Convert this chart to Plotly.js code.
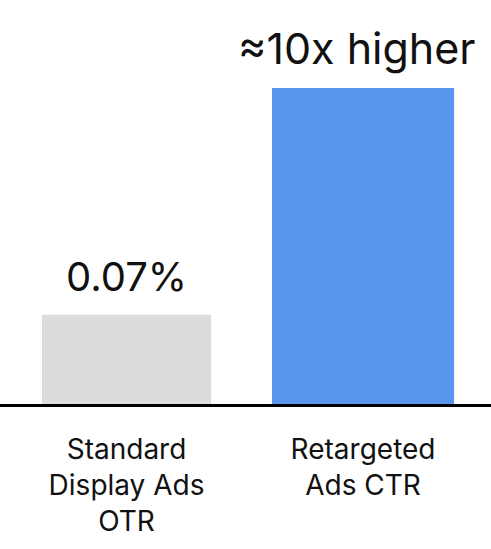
<!DOCTYPE html>
<html>
<head>
<meta charset="utf-8">
<script src="https://cdn.plot.ly/plotly-3.0.1.min.js"></script>
<style>
  html, body { margin: 0; padding: 0; background: #fff; }
  #chart { width: 491px; height: 549px; }
</style>
</head>
<body>
<div id="chart"></div>
<script>
// Click-through rates (%) for the two ad types
const categories = ["Standard<br>Display Ads<br>OTR", "Retargeted<br>Ads CTR"];
const ctrValues = [0.07, 0.7];
const valueLabels = ["0.07%", "≈10x higher"];
const barColors = ["#dcdcdc", "#5896ee"];
const barWidths = [0.715, 0.77];

const positions = categories.map((_, i) => i);

const trace = {
  type: "bar",
  x: positions,
  y: ctrValues,
  width: barWidths,
  marker: { color: barColors, line: { width: 0 } },
  hoverinfo: "skip"
};

// value labels sit just above each bar
const labelSizes = [40, 43];
const annotations = positions.map((p, i) => ({
  x: p,
  y: Math.log10(ctrValues[i]),
  xref: "x",
  yref: "y",
  text: valueLabels[i],
  showarrow: false,
  yanchor: "bottom",
  yshift: 12,
  xshift: i === 1 ? -6 : 0,
  font: { family: "Inter, sans-serif", size: labelSizes[i], color: "#111" }
}));

const layout = {
  width: 491,
  height: 549,
  margin: { l: 0, r: 0, t: 0, b: 145 },
  paper_bgcolor: "#ffffff",
  plot_bgcolor: "#ffffff",
  showlegend: false,
  xaxis: {
    range: [-0.535, 1.541],
    tickvals: positions,
    ticktext: categories,
    ticks: "",
    showgrid: false,
    zeroline: false,
    showline: true,
    linecolor: "#000",
    linewidth: 3,
    ticklabelstandoff: 18,
    tickfont: { family: "Inter, sans-serif", size: 28, color: "#111" },
    fixedrange: true
  },
  yaxis: {
    type: "log",
    range: [-1.549, 0.233],
    visible: false,
    showgrid: false,
    zeroline: false,
    fixedrange: true
  },
  annotations: annotations
};

Plotly.newPlot("chart", [trace], layout, { displayModeBar: false, staticPlot: true });
</script>
</body>
</html>
